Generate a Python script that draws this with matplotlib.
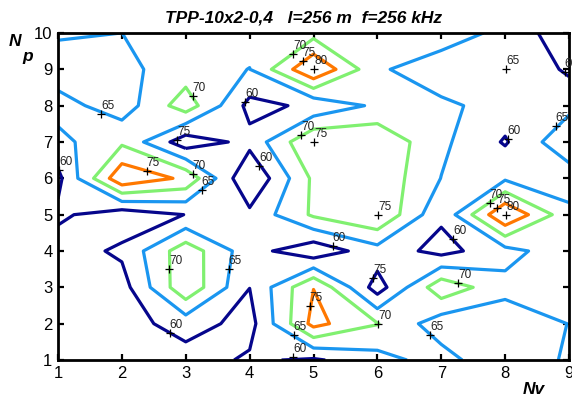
import numpy as np
import matplotlib
matplotlib.use('Agg')
import matplotlib.pyplot as plt

plt.rcParams['font.family'] = ['Liberation Sans', 'DejaVu Sans']

# grid: Nv = 1..9 (columns), Np = 1..10 (rows)
nv = np.arange(1, 10)
np_vals = np.arange(1, 11)

z_np1 = [56.0, 57.0, 57.8, 60.7, 59.3, 63.1, 67.2, 60.5, 65.9]
z_np2 = [56.0, 57.8, 62.2, 58.2, 76.6, 70.2, 62.1, 62.0, 65.1]
z_np3 = [57.0, 57.9, 73.9, 60.05, 74.9, 57.6, 73.5, 66.5, 68.0]
z_np4 = [57.5, 60.9, 73.1, 62.0, 56.4, 63.0, 58.3, 63.2, 68.1]
z_np5 = [61.0, 57.0, 60.1, 61.2, 70.8, 74.9, 60.9, 79.9, 66.5]
z_np6 = [58.7, 79.0, 74.0, 55.0, 71.0, 73.8, 64.9, 64.2, 62.0]
z_np7 = [63.5, 69.1, 57.0, 61.5, 74.9, 74.1, 66.1, 59.5, 69.0]
z_np8 = [67.0, 62.3, 72.8, 58.5, 61.0, 66.0, 66.3, 62.6, 63.6]
z_np9 = [62.2, 63.8, 67.3, 64.9, 79.9, 66.0, 61.0, 64.9, 59.1]
z_np10 = [65.7, 64.99, 67.0, 67.0, 68.2, 67.0, 68.7, 63.1, 57.1]

levels = [60, 65, 70, 75, 80]
level_colors = ['#06068c', '#1a96f0', '#80f070', '#ff7800', '#900000']

# contour labels (clabel style: "+" and the level value)
lab_x = [1.68, 3.11, 2.87, 4.68, 4.83, 5.01, 3.93, 4.81, 5.01, 8.02, 8.93, 8.79,
         8.04, 1.02, 2.39, 3.11, 3.25, 4.15, 6.01, 5.30, 7.76, 7.88, 8.02, 7.19,
         2.74, 3.67, 2.75, 5.93, 4.94, 4.69, 6.01, 4.68, 7.27, 6.83]
lab_y = [7.78, 8.27, 7.05, 9.43, 9.23, 9.02, 8.10, 7.19, 7.00, 9.00, 8.92, 7.43,
         7.09, 6.22, 6.20, 6.11, 5.69, 6.34, 4.99, 4.14, 5.31, 5.17, 4.99, 4.33,
         3.50, 3.50, 1.73, 3.25, 2.48, 1.69, 1.99, 1.08, 3.11, 1.69]
lab_txt = ['65', '70', '75', '70', '75', '80', '60', '70', '75', '65', '60', '65',
           '60', '60', '75', '70', '65', '60', '75', '60', '70', '75', '80', '60',
           '70', '65', '60', '75', '75', '65', '70', '60', '70', '65']

z = np.array([z_np1, z_np2, z_np3, z_np4, z_np5, z_np6, z_np7, z_np8, z_np9, z_np10])

fig = plt.figure(figsize=(5.72, 3.96), dpi=100)
ax = fig.add_axes([58 / 572, 36 / 396, 511 / 572, 327 / 396])

ax.contour(nv, np_vals, z, levels=levels, colors=level_colors, linewidths=2.3)

for x, y, t in zip(lab_x, lab_y, lab_txt):
    ax.plot(x, y, marker='+', color='black', markersize=6, mew=0.9)
    ax.annotate(t, (x, y), xytext=(0, 1.5), textcoords='offset points',
                ha='left', va='bottom', fontsize=8.5, color='#222222')

ax.set_xlim(1, 9)
ax.set_ylim(1, 10)
ax.set_xticks(range(1, 10))
ax.set_yticks(range(1, 11))
ax.tick_params(direction='in', top=True, right=True, length=4, width=1.6,
               labelsize=12, pad=4)
for s in ax.spines.values():
    s.set_linewidth(2)

fig.text(304 / 572, 1 - 18 / 396, 'TPP-10x2-0,4   l=256 m  f=256 kHz',
         ha='center', va='center', fontsize=12.5, fontweight='bold', style='italic')
fig.text(15 / 572, 1 - 41 / 396, 'N', ha='center', va='center', fontsize=12.5,
         fontweight='bold', style='italic')
fig.text(28 / 572, 1 - 56 / 396, 'p', ha='center', va='center', fontsize=12.5,
         fontweight='bold', style='italic')
fig.text(534 / 572, 1 - 389 / 396, 'Nv', ha='center', va='center', fontsize=12.5,
         fontweight='bold', style='italic')

fig.savefig('out.png', dpi=100)
